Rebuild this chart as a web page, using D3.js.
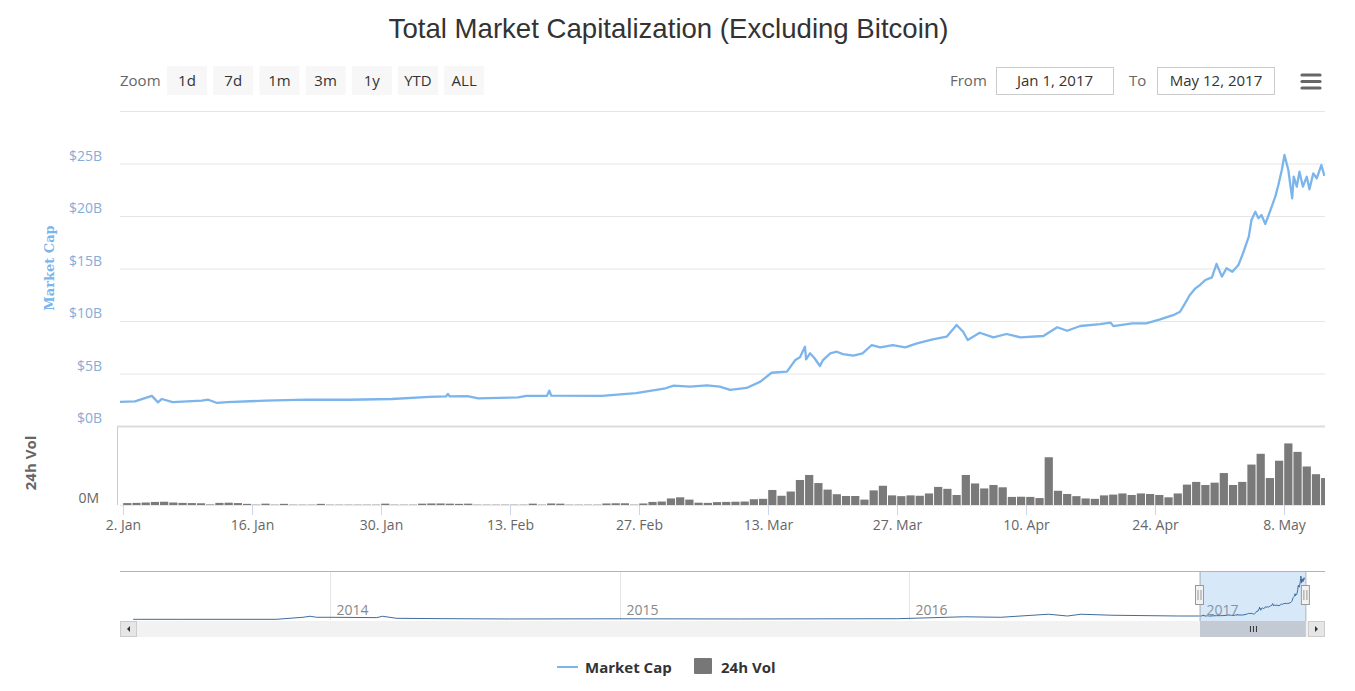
<!DOCTYPE html>
<html><head><meta charset="utf-8">
<script src="https://cdn.jsdelivr.net/npm/d3@7"></script>
<style>
body{margin:0;background:#fff}
svg{display:block}
text{font-family:"Open Sans",sans-serif}
</style>
</head><body>
<svg id="c" width="1355" height="691"></svg>
<script>
// ---------------- DATA ----------------
const chartTitle = "Total Market Capitalization (Excluding Bitcoin)";
const zoomButtons = ["1d","7d","1m","3m","1y","YTD","ALL"];
const fromLabel = "Jan 1, 2017";
const toLabel = "May 12, 2017";

const capDates = ["2017-01-01 12:00","2017-01-03 08:00","2017-01-05 04:00","2017-01-05 20:00","2017-01-06 06:00","2017-01-07 10:00","2017-01-10 14:00","2017-01-11 07:00","2017-01-12 06:00","2017-01-13 08:00","2017-01-17 11:00","2017-01-22 00:00","2017-01-26 14:00","2017-01-31 05:00","2017-02-04 07:00","2017-02-06 02:00","2017-02-06 07:00","2017-02-06 12:00","2017-02-08 10:00","2017-02-09 14:00","2017-02-13 22:00","2017-02-14 19:00","2017-02-17 01:00","2017-02-17 07:00","2017-02-17 12:00","2017-02-23 00:00","2017-02-26 17:00","2017-03-01 22:00","2017-03-02 19:00","2017-03-04 14:00","2017-03-06 10:00","2017-03-07 19:00","2017-03-08 22:00","2017-03-10 17:00","2017-03-12 05:00","2017-03-13 10:00","2017-03-15 02:00","2017-03-16 00:00","2017-03-16 12:00","2017-03-17 01:00","2017-03-17 04:00","2017-03-17 14:00","2017-03-18 02:00","2017-03-18 16:00","2017-03-19 00:00","2017-03-19 19:00","2017-03-20 12:00","2017-03-21 04:00","2017-03-22 07:00","2017-03-23 07:00","2017-03-24 07:00","2017-03-25 05:00","2017-03-26 14:00","2017-03-27 22:00","2017-03-29 05:00","2017-03-30 22:00","2017-04-01 10:00","2017-04-02 12:00","2017-04-03 05:00","2017-04-03 17:00","2017-04-05 00:00","2017-04-06 12:00","2017-04-07 22:00","2017-04-09 10:00","2017-04-11 22:00","2017-04-13 10:00","2017-04-14 12:00","2017-04-15 22:00","2017-04-18 02:00","2017-04-19 05:00","2017-04-19 12:00","2017-04-21 14:00","2017-04-23 02:00","2017-04-24 14:00","2017-04-26 00:00","2017-04-26 18:00","2017-04-27 07:00","2017-04-27 19:00","2017-04-28 10:00","2017-04-28 22:00","2017-04-29 12:00","2017-04-30 05:00","2017-04-30 17:00","2017-05-01 07:00","2017-05-01 19:00","2017-05-02 10:00","2017-05-03 02:00","2017-05-03 14:00","2017-05-04 05:00","2017-05-04 12:00","2017-05-04 22:00","2017-05-05 06:00","2017-05-05 14:00","2017-05-06 00:00","2017-05-06 12:00","2017-05-07 02:00","2017-05-07 10:00","2017-05-07 19:00","2017-05-08 02:00","2017-05-08 12:00","2017-05-08 22:00","2017-05-09 02:00","2017-05-09 10:00","2017-05-09 17:00","2017-05-10 02:00","2017-05-10 12:00","2017-05-10 19:00","2017-05-11 05:00","2017-05-11 14:00","2017-05-12 02:00","2017-05-12 10:00"];
// market cap, billions USD
const capValues = [2.33,2.39,2.92,2.30,2.62,2.33,2.46,2.55,2.24,2.33,2.46,2.55,2.55,2.62,2.83,2.86,3.10,2.86,2.90,2.68,2.77,2.92,2.92,3.42,2.95,2.92,3.17,3.64,3.89,3.79,3.91,3.79,3.48,3.67,4.27,5.12,5.22,6.33,6.59,7.60,6.40,6.97,6.50,5.76,6.33,6.97,7.12,6.90,6.74,6.97,7.76,7.54,7.76,7.54,7.92,8.30,8.55,9.67,9.03,8.24,8.93,8.49,8.81,8.49,8.62,9.45,9.12,9.57,9.76,9.89,9.57,9.83,9.83,10.2,10.6,10.93,11.73,12.5,13.16,13.48,13.95,14.2,15.48,14.27,15.07,14.74,15.38,16.5,18.08,19.67,20.46,19.83,20.14,19.29,20.46,21.89,23.0,24.43,25.86,24.43,21.73,23.79,22.84,24.27,22.84,23.79,22.59,24.11,23.64,24.9,23.86];

// 24h volume, millions USD, one value per day starting 2 Jan 2017
const volStartDate = "2017-01-02";
const volValues = [50,55,65,80,85,65,55,50,45,15, 55,60,50,30,10,35,10,30,10,10, 10,30,10,10,10,10,10,10,35,10, 10,10,35,40,40,35,30,35,10,10, 10,10,10,10,35,10,40,35,10,10, 10,10,40,45,45,10,40,80,90,170, 200,140,60,55,75,80,85,90,150,160, 390,240,350,650,780,570,400,280,234,234, 140,380,500,250,230,250,240,300,470,420, 260,780,560,430,520,460,210,215,210,180, 1240,370,286,230,170,160,250,270,300,260, 300,286,260,200,300,530,600,520,580,830, 520,600,1050,1330,700,1150,1600,1380,1000,800, 700];

// navigator history (before 2017), billions USD
const navDates = ["2013-04-28","2013-07-01","2013-10-25","2013-11-28","2013-12-07","2013-12-15","2014-01-01","2014-03-01","2014-03-08","2014-03-26","2014-05-22","2014-08-15","2015-01-01","2015-06-01","2015-12-17","2016-03-10","2016-04-25","2016-06-24","2016-07-18","2016-08-04","2016-09-12","2016-12-05","2016-12-31"];
const navValues = [0.4,0.4,0.4,1.6,2.2,1.6,1.6,1.4,2.2,1.0,0.8,0.6,0.7,0.6,0.76,1.9,1.6,3.4,2.35,3.4,2.8,2.35,2.35];
const navYears = ["2014","2015","2016","2017"];

const xTickDates = ["2017-01-02","2017-01-16","2017-01-30","2017-02-13","2017-02-27","2017-03-13","2017-03-27","2017-04-10","2017-04-24","2017-05-08"];
const xTickLabels = ["2. Jan","16. Jan","30. Jan","13. Feb","27. Feb","13. Mar","27. Mar","10. Apr","24. Apr","8. May"];
const yTickValues = [0,5,10,15,20,25,30];
const yTickLabels = ["$0B","$5B","$10B","$15B","$20B","$25B",""];
const legendItems = ["Market Cap","24h Vol"];

// ---------------- DRAW ----------------
const svg = d3.select("#c");
const pT = d3.utcParse("%Y-%m-%d %H:%M");
const pD = d3.utcParse("%Y-%m-%d");
const blue = "#7cb5ec";
const L = 120, R = 1325;

svg.append("text").attr("x", 668.5).attr("y", 38).attr("text-anchor","middle")
  .style("font-family","'Liberation Sans',Arial,sans-serif").style("font-size","27.6px").attr("fill","#333")
  .text(chartTitle);

// toolbar
svg.append("text").attr("x",120).attr("y",86).style("font-size","15px").attr("fill","#666").text("Zoom");
zoomButtons.forEach((b,i)=>{
  const bx = 167 + i*46.2;
  svg.append("rect").attr("x",bx).attr("y",66).attr("width",40).attr("height",29).attr("fill","#f7f7f7");
  svg.append("text").attr("x",bx+20).attr("y",86).attr("text-anchor","middle").style("font-size","15px").attr("fill","#333").text(b);
});
svg.append("text").attr("x",950).attr("y",86).style("font-size","15px").attr("fill","#666").text("From");
svg.append("rect").attr("x",996.5).attr("y",67.5).attr("width",117).attr("height",27).attr("fill","#fff").attr("stroke","#ccc");
svg.append("text").attr("x",1055).attr("y",86).attr("text-anchor","middle").style("font-size","15px").attr("fill","#333").text(fromLabel);
svg.append("text").attr("x",1129).attr("y",86).style("font-size","15px").attr("fill","#666").text("To");
svg.append("rect").attr("x",1157.5).attr("y",67.5).attr("width",117).attr("height",27).attr("fill","#fff").attr("stroke","#ccc");
svg.append("text").attr("x",1216).attr("y",86).attr("text-anchor","middle").style("font-size","15px").attr("fill","#333").text(toLabel);
[75,81.5,88].forEach(yy=>svg.append("line").attr("x1",1302).attr("x2",1320).attr("y1",yy).attr("y2",yy)
  .attr("stroke","#666").attr("stroke-width",3.2).attr("stroke-linecap","round"));

// scales
const x = d3.scaleUtc().domain([pT("2017-01-01 17:00"), pT("2017-05-12 11:30")]).range([L, R]);
const y = d3.scaleLinear().domain([0, 30]).range([426.5, 111.5]);
const yv = d3.scaleLinear().domain([0, 2000]).range([505, 428]);

// gridlines + y labels
yTickValues.forEach((v,i)=>{
  if (v !== 0) svg.append("line").attr("x1",L).attr("x2",R).attr("y1",y(v)).attr("y2",y(v)).attr("stroke","#e6e6e6");
  if (yTickLabels[i]) svg.append("text").attr("x",102).attr("y",y(v)-3.5).attr("text-anchor","end")
    .style("font-size","14px").attr("fill","#86acd8").text(yTickLabels[i]);
});
svg.append("line").attr("x1",117).attr("x2",R).attr("y1",426.5).attr("y2",426.5).attr("stroke","#dcdcdc").attr("stroke-width",2);

// axis titles
svg.append("text").attr("transform","translate(54,268) rotate(-90)").attr("text-anchor","middle")
  .style("font-family","'DejaVu Serif',serif").style("font-weight","bold").style("font-size","13px")
  .attr("fill",blue).text("Market Cap");
svg.append("text").attr("transform","translate(36,463) rotate(-90)").attr("text-anchor","middle")
  .style("font-weight","bold").style("font-size","15px").attr("fill","#666").text("24h Vol");
svg.append("text").attr("x",99).attr("y",503).attr("text-anchor","end").style("font-size","14px").attr("fill","#666").text("0M");

// clip
const defs = svg.append("defs");
defs.append("clipPath").attr("id","plot").append("rect").attr("x",L).attr("y",100).attr("width",R-L).attr("height",410);

// volume bars
const vStart = pD(volStartDate);
const volData = volValues.map((v,i)=>({date:d3.utcHour.offset(d3.utcDay.offset(vStart,i),12), v}));
const bw = x(d3.utcDay.offset(vStart,1)) - x(vStart);
svg.append("g").attr("clip-path","url(#plot)").selectAll("rect").data(volData).join("rect")
  .attr("x",d=>x(d.date)-bw/2+0.5).attr("width",bw-1)
  .attr("y",d=>yv(d.v)).attr("height",d=>505-yv(d.v)).attr("fill","#7a7a7a");

// volume axis line & x axis
svg.append("line").attr("x1",117.5).attr("x2",117.5).attr("y1",427).attr("y2",505).attr("stroke","#ccc");
svg.append("line").attr("x1",L).attr("x2",R).attr("y1",505.5).attr("y2",505.5).attr("stroke","#e3e8f0");
xTickDates.forEach((d,i)=>{
  const xx = Math.round(x(pD(d)))+0.5;
  svg.append("line").attr("x1",xx).attr("x2",xx).attr("y1",505).attr("y2",515).attr("stroke","#ccd6eb");
  svg.append("text").attr("x",xx).attr("y",530).attr("text-anchor","middle").style("font-size","14px")
    .attr("fill","#666").text(xTickLabels[i]);
});

// market cap line
const capData = capDates.map((d,i)=>({date:pT(d), v:capValues[i]}));
svg.append("path").datum(capData).attr("clip-path","url(#plot)")
  .attr("d", d3.line().x(d=>x(d.date)).y(d=>y(d.v)))
  .attr("fill","none").attr("stroke",blue).attr("stroke-width",2.3).attr("stroke-linejoin","round");

// ---------------- NAVIGATOR ----------------
const nx = d3.scaleUtc().domain([pD("2014-01-01"), pD("2017-01-01")]).range([330, 1200]);
const ny = d3.scaleLinear().domain([0, 26.5]).range([620, 575]);
navYears.forEach(yr=>{
  const xx = Math.round(nx(pD(yr+"-01-01")))+0.5;
  svg.append("line").attr("x1",xx).attr("x2",xx).attr("y1",571).attr("y2",620).attr("stroke","#e6e6e6");
  svg.append("text").attr("x",xx+6).attr("y",615).style("font-size","14px").attr("fill","#888").text(yr);
});
const navData = navDates.map((d,i)=>({date:pD(d), v:navValues[i]})).concat(capData.slice(1));
const selA = nx(pD("2017-01-01")), selB = nx(pT("2017-05-12 12:00"))+1.5;
svg.append("rect").attr("x",selA).attr("y",571).attr("width",selB-selA).attr("height",50).attr("fill","rgba(124,181,236,0.3)");
svg.append("path").datum(navData).attr("d", d3.line().x(d=>nx(d.date)).y(d=>ny(d.v)))
  .attr("fill","none").attr("stroke","#3f6c9f").attr("stroke-width",1);
svg.append("line").attr("x1",L).attr("x2",R).attr("y1",571.5).attr("y2",571.5).attr("stroke","#b3b3b3");
[selA, selB].forEach(hx=>{
  svg.append("line").attr("x1",hx).attr("x2",hx).attr("y1",571).attr("y2",621).attr("stroke","#b3b3b3");
});

// scrollbar
svg.append("rect").attr("x",L).attr("y",621).attr("width",R-L).attr("height",16).attr("fill","#f2f2f2");
svg.append("rect").attr("x",selA).attr("y",621).attr("width",selB-selA).attr("height",16).attr("fill","#c3cad3");
[-2,0,2].forEach(o=>svg.append("line").attr("x1",(selA+selB)/2+o*1.5+0.5).attr("x2",(selA+selB)/2+o*1.5+0.5)
  .attr("y1",626).attr("y2",632).attr("stroke","#333"));
[[L,"l"],[R-17,"r"]].forEach(([bx,dir])=>{
  svg.append("rect").attr("x",bx+0.5).attr("y",621.5).attr("width",16).attr("height",15).attr("fill","#e6e6e6").attr("stroke","#ccc");
  const cx = bx+8.5, cy = 629;
  const pts = dir==="l" ? [[cx+1.5,cy-3],[cx+1.5,cy+3],[cx-1.5,cy]] : [[cx-1.5,cy-3],[cx-1.5,cy+3],[cx+1.5,cy]];
  svg.append("polygon").attr("points",pts.map(p=>p.join(",")).join(" ")).attr("fill","#333");
});
[selA, selB].forEach(hx=>{
  svg.append("rect").attr("x",hx-4.5).attr("y",585.5).attr("width",8).attr("height",19).attr("fill","#f2f2f2").attr("stroke","#999");
  [-1.5,1.5].forEach(o=>svg.append("line").attr("x1",hx+o-0.5).attr("x2",hx+o-0.5).attr("y1",590).attr("y2",600).attr("stroke","#999"));
});

// legend
svg.append("line").attr("x1",557).attr("x2",578).attr("y1",667).attr("y2",667).attr("stroke",blue).attr("stroke-width",2);
svg.append("text").attr("x",585).attr("y",673).style("font-size","15px").style("font-weight","bold").attr("fill","#333").text(legendItems[0]);
svg.append("rect").attr("x",694).attr("y",658).attr("width",18).attr("height",16).attr("rx",1).attr("fill","#777");
svg.append("text").attr("x",721).attr("y",673).style("font-size","15px").style("font-weight","bold").attr("fill","#333").text(legendItems[1]);
</script>
</body></html>
